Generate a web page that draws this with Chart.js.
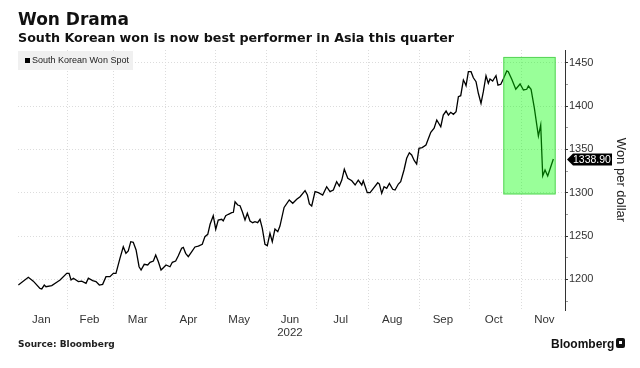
<!DOCTYPE html>
<html>
<head>
<meta charset="utf-8">
<script src="https://cdn.jsdelivr.net/npm/chart.js@4"></script>
<style>
  body { margin: 0; background: #fff; font-family: "Liberation Sans", Arial, sans-serif; }
  #wrap { position: relative; width: 640px; height: 368px; overflow: hidden; }
  #c { position: absolute; left: 0; top: 0; }
  .txt { position: absolute; white-space: nowrap; line-height: 1; color: #111; }
  #title { left: 18px; top: 11px; font-family: "DejaVu Sans", sans-serif; font-size: 17px; font-weight: bold; }
  #subtitle { left: 18px; top: 32px; font-family: "DejaVu Sans", sans-serif; font-size: 12.7px; font-weight: bold; }
  #legend { position: absolute; left: 18px; top: 51px; width: 115px; height: 19px; background: #f0f0f0; }
  #legend .sq { position: absolute; left: 7px; top: 7px; width: 5px; height: 5px; background: #000; }
  #legend .lab { position: absolute; left: 14px; top: 5px; font-size: 9px; line-height: 1; color: #222; white-space: nowrap; }
  #source { left: 18px; top: 340px; font-family: "DejaVu Sans", sans-serif; font-size: 9px; font-weight: bold; color: #222; }
  #logo { left: 551px; top: 338px; font-size: 12px; font-weight: bold; color: #111; }
  #icon { position: absolute; left: 616px; top: 338px; width: 9px; height: 10px; background: #111; border-radius: 2px; }
  #icon i { position: absolute; left: 3px; top: 3px; width: 3px; height: 3px; background: #fff; }
</style>
</head>
<body>
<div id="wrap">
  <canvas id="c" width="640" height="368"></canvas>
  <div class="txt" id="title">Won Drama</div>
  <div class="txt" id="subtitle">South Korean won is now best performer in Asia this quarter</div>
  <div id="legend"><span class="sq"></span><span class="lab">South Korean Won Spot</span></div>
  <div class="txt" id="source">Source: Bloomberg</div>
  <div class="txt" id="logo">Bloomberg</div>
  <div id="icon"><i></i></div>
</div>
<script>
// day of year 2022 (Jan 1 = 0)
const days = [1.7, 7.7, 10.7, 14.7, 15.8, 17.3, 18.3, 21.8, 24.8, 26.8,
  30.8, 32.2, 33.4, 34.8, 37.8, 39.8, 42.4, 43.8, 46.4, 48.4,
  50.4, 52.4, 54.4, 56.8, 58.8, 60.4, 62.8, 64.8, 66.4, 67.8,
  69.3, 70.8, 72.5, 74.3, 75.5, 77.4, 79.5, 80.9, 82.9, 84.3,
  85.9, 87.5, 88.9, 90.5, 92.9, 94.3, 96.3, 97.9, 99.9, 100.9,
  102.3, 103.9, 106, 107.9, 109.9, 112.3, 113.9, 115.6, 117, 118.9,
  120.4, 121.9, 124, 124.9, 126.4, 128, 130, 131, 132, 133.6,
  135, 136.4, 138, 139.4, 141, 142.6, 144, 145.6, 147, 148.4,
  150, 151.4, 153, 154.4, 156, 157.7, 159, 161.5, 164.6, 166.7,
  169.1, 171.1, 174.1, 175.5, 176.7, 178.1, 180.1, 182.1, 184.7, 187.1,
  189.1, 191.1, 193.1, 194.7, 196.2, 197.7, 199.8, 202.2, 204.2, 206.1,
  208.2, 209.1, 211.5, 213.2, 215.2, 217.8, 218.8, 220.2, 221.6, 223.2,
  224.8, 226.8, 228.2, 230.2, 231.6, 233.6, 235.2, 236.8, 238.2, 239.8,
  241.2, 242.6, 244.5, 246.8, 249.7, 251.7, 253.3, 255.7, 257.2, 258.9,
  260.3, 261.7, 263.3, 264.9, 266.3, 267.7, 269.3, 270.3, 270.9, 272.3,
  273.9, 275.3, 276.9, 278.3, 279.9, 281.3, 282.9, 284.3, 285.3, 286.9,
  287.9, 288.9, 290.1, 291.8, 293.3, 295.4, 296.3, 298.4, 300.8, 303.4,
  305.4, 307.4, 308.4, 310, 312, 314.4, 315.8, 317, 318.4, 320,
  323.4];

// won per dollar
const wonSpot = [1193.5, 1202.4, 1198, 1189.7, 1189, 1193.5, 1191.6, 1192.8, 1196.7, 1199.3,
  1207, 1207, 1199.3, 1201.3, 1197.4, 1198, 1195.5, 1201.3, 1198.6, 1197.4,
  1193.5, 1194.3, 1203.1, 1203.1, 1207, 1207, 1224.3, 1237.7, 1230.1, 1232.8,
  1243.5, 1242.8, 1233.9, 1214.6, 1210.8, 1217.4, 1216.6, 1219.7, 1221.2, 1228.1,
  1220.4, 1210.8, 1213.5, 1216.6, 1214.6, 1219.7, 1221.2, 1227.3, 1235.9, 1237,
  1230.1, 1226.2, 1232, 1237.4, 1238.5, 1240.5, 1249.3, 1252, 1263.6, 1273.5,
  1257.8, 1268.5, 1269.3, 1267.4, 1273.5, 1275.1, 1276.9, 1277.4, 1289.6, 1285.8,
  1285, 1278.1, 1268.5, 1276.2, 1267.4, 1265.4, 1266.6, 1265.4, 1269.3, 1258.9,
  1240.5, 1238.9, 1253.2, 1243.5, 1258.1, 1255, 1261.5, 1283, 1291.6, 1287.8,
  1292.4, 1295.4, 1302.3, 1297.3, 1287, 1284.7, 1301.2, 1300, 1297.3, 1306.9,
  1301.2, 1303.1, 1312.7, 1307.7, 1314.6, 1327, 1316.6, 1313.8, 1308.9, 1314.6,
  1308.9, 1313.8, 1300, 1300, 1305.1, 1311.5, 1310, 1299.3, 1306.9, 1305.1,
  1310.8, 1303.9, 1303.1, 1310, 1312.7, 1326.2, 1339.7, 1346.1, 1343.5, 1336.9,
  1333.1, 1351.2, 1352, 1355, 1369.7, 1374.3, 1383.9, 1376.1, 1389.6, 1394.2,
  1389.6, 1392.7, 1390.4, 1393.4, 1410.7, 1411.9, 1430, 1426.2, 1423.4, 1439.6,
  1439.6, 1432.6, 1428, 1414.7, 1403.1, 1416.5, 1434.9, 1426.2, 1431.1, 1428.8,
  1432, 1434.9, 1424, 1425, 1431.1, 1440.5, 1439.6, 1430.8, 1419.3, 1425.4,
  1418.5, 1419.3, 1423.1, 1419.3, 1397.3, 1365.4, 1378.1, 1319.3, 1326.2, 1319.3,
  1338.9];

const monthStarts = [31, 59, 90, 120, 151, 181, 212, 243, 273, 304];
const monthMids = [15.5, 44.5, 73.5, 104, 134.5, 165, 195.5, 226.5, 257, 287.5, 318];
const monthLabels = ['Jan', 'Feb', 'Mar', 'Apr', 'May', ['Jun', '2022'], 'Jul', 'Aug', 'Sep', 'Oct', 'Nov'];
const yTicks = [1175, 1200, 1225, 1250, 1275, 1300, 1325, 1350, 1375, 1400, 1425, 1450];

// highlighted quarter box (days, won)
const boxDays = [293.3, 324.8];
const boxWon = [1298, 1456.6];

const lastValue = wonSpot[wonSpot.length - 1];

const highlightBox = {
    id: 'highlightBox',
    afterDatasetsDraw(chart) {
        const {ctx, scales: {x, y}} = chart;
        const x1 = x.getPixelForValue(boxDays[0]);
        const x2 = x.getPixelForValue(boxDays[1]);
        const y1 = y.getPixelForValue(boxWon[1]);
        const y2 = y.getPixelForValue(boxWon[0]);
        ctx.save();
        ctx.fillStyle = 'rgba(0, 255, 0, 0.4)';
        ctx.fillRect(x1, y1, x2 - x1, y2 - y1);
        ctx.strokeStyle = 'rgba(70, 200, 70, 0.8)';
        ctx.lineWidth = 1;
        ctx.strokeRect(x1 + 0.5, y1 + 0.5, x2 - x1 - 1, y2 - y1 - 1);
        ctx.restore();
    }
};

const lastTag = {
    id: 'lastTag',
    afterDraw(chart) {
        const {ctx, scales: {y}} = chart;
        const py = Math.round(y.getPixelForValue(lastValue)) + 0.5;
        const px = y.left + 2;
        ctx.save();
        ctx.fillStyle = '#000';
        ctx.beginPath();
        ctx.moveTo(px, py);
        ctx.lineTo(px + 6, py - 6);
        ctx.lineTo(px + 45, py - 6);
        ctx.lineTo(px + 45, py + 6);
        ctx.lineTo(px + 6, py + 6);
        ctx.closePath();
        ctx.fill();
        ctx.fillStyle = '#fff';
        ctx.font = '10.5px "Liberation Sans", Arial, sans-serif';
        ctx.textAlign = 'left';
        ctx.textBaseline = 'middle';
        ctx.fillText(lastValue.toFixed(2), px + 6, py + 0.5);
        ctx.restore();
    }
};

const ctx = document.getElementById('c').getContext('2d');
new Chart(ctx, {
    type: 'line',
    data: {
        datasets: [{
            label: 'South Korean Won Spot',
            data: days.map((d, i) => ({x: d, y: wonSpot[i]})),
            borderColor: '#000',
            borderWidth: 1.3,
            pointRadius: 0,
            tension: 0,
            xAxisID: 'x',
            yAxisID: 'y'
        }]
    },
    options: {
        responsive: false,
        animation: false,
        layout: {padding: {left: 18, top: 50, right: 0, bottom: 0}},
        plugins: {legend: {display: false}, tooltip: {enabled: false}},
        scales: {
            xg: {
                type: 'linear', position: 'bottom', min: 1.5, max: 330.4,
                afterBuildTicks: axis => { axis.ticks = monthStarts.map(v => ({value: v})); },
                afterFit: s => { s.height = 0; },
                ticks: {display: false},
                grid: {color: '#dcdcdc', lineWidth: 1, drawTicks: false},
                border: {display: false, dash: [1, 2]}
            },
            x: {
                type: 'linear', position: 'bottom', min: 1.5, max: 330.4,
                afterBuildTicks: axis => { axis.ticks = monthMids.map(v => ({value: v})); },
                afterFit: s => { s.height = 58; },
                ticks: {
                    autoSkip: false, maxRotation: 0, padding: 3, color: '#333',
                    font: {family: '"Liberation Sans", Arial, sans-serif', size: 11.5, lineHeight: 1.15},
                    callback: (v, i) => monthLabels[i]
                },
                grid: {display: false, drawTicks: false},
                border: {display: false}
            },
            y: {
                type: 'linear', position: 'right', min: 1164.7, max: 1464.6,
                afterBuildTicks: axis => { axis.ticks = yTicks.map(v => ({value: v})); },
                afterFit: s => { s.width = 75; },
                ticks: {
                    padding: 1, color: '#333',
                    font: {family: '"Liberation Sans", Arial, sans-serif', size: 11},
                    callback: v => (v % 50 === 0 ? String(v) : '')
                },
                grid: {
                    color: c => (c.tick && c.tick.value % 50 === 0 ? '#dcdcdc' : 'rgba(0,0,0,0)'),
                    tickColor: c => (c.tick && c.tick.value % 50 === 0 ? '#333' : '#999'),
                    tickLength: 3,
                    tickBorderDash: [],
                    lineWidth: 1
                },
                border: {display: true, color: '#333', width: 1, dash: [1, 2]},
                title: {
                    display: true, text: 'Won per dollar', color: '#222',
                    font: {family: '"Liberation Sans", Arial, sans-serif', size: 13},
                    padding: {top: 12, bottom: 0}
                }
            }
        }
    },
    plugins: [highlightBox, lastTag]
});
</script>
</body>
</html>
